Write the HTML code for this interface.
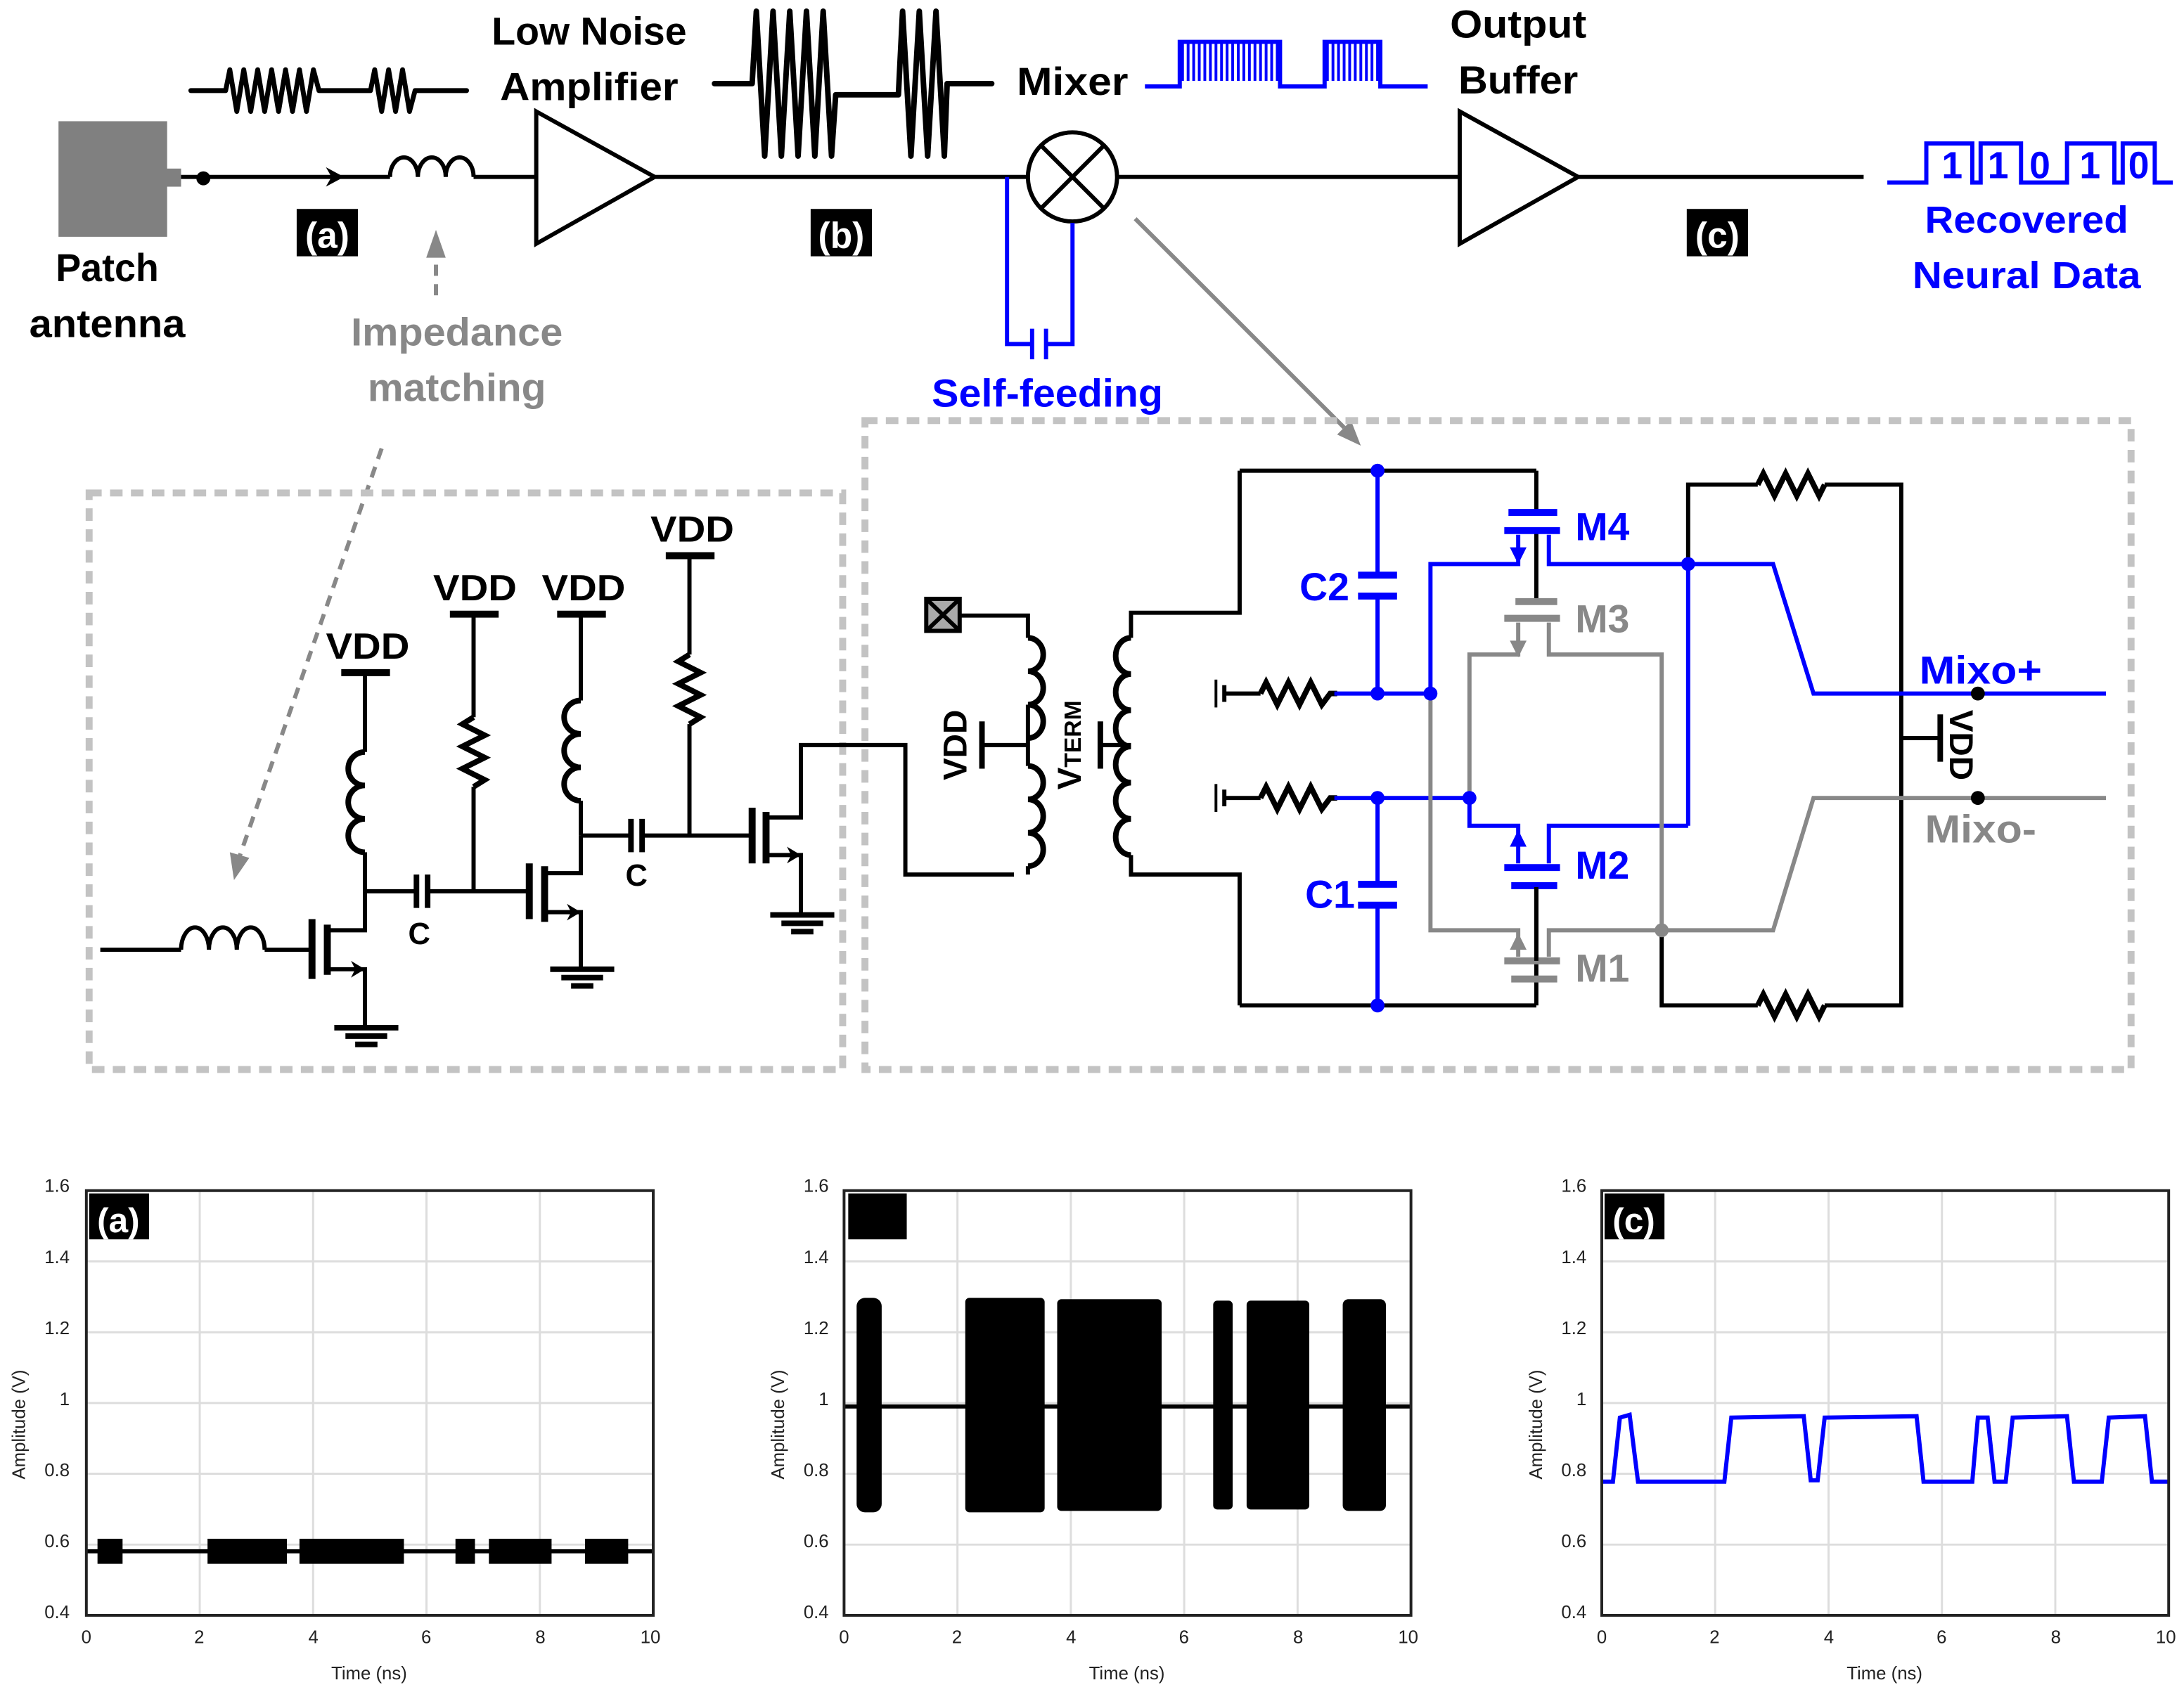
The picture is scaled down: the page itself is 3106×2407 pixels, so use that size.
<!DOCTYPE html>
<html><head><meta charset="utf-8"><style>
html,body{margin:0;padding:0;background:#fff}
svg{display:block}
text{font-family:"Liberation Sans",sans-serif}
.b{font-weight:bold}
</style></head><body>
<svg width="3106" height="2407" viewBox="0 0 1568 1215" xmlns="http://www.w3.org/2000/svg">
<defs>
<pattern id="pb" width="4" height="40" patternUnits="userSpaceOnUse"><rect x="0" y="0" width="2" height="40" fill="#00f"/></pattern>
</defs>
<rect width="1568" height="1215" fill="#fff"/>

<!-- ===== TOP BLOCK DIAGRAM ===== -->
<g stroke="#000" stroke-width="3" fill="none">
<rect x="42" y="87" width="78" height="83" fill="#808080" stroke="none"/>
<rect x="118" y="121" width="12" height="13" fill="#808080" stroke="none"/>
<line x1="130" y1="127" x2="280" y2="127"/>
<path d="M280 127 a10 14 0 1 1 20 0 a10 14 0 1 1 20 0 a10 14 0 1 1 20 0" />
<line x1="340" y1="127" x2="385" y2="127"/>
<polygon points="385,80 385,175 470,127" fill="#fff"/>
<line x1="470" y1="127" x2="738" y2="127"/>
<circle cx="770" cy="127" r="32" fill="#fff"/>
<line x1="747" y1="104" x2="793" y2="150"/><line x1="793" y1="104" x2="747" y2="150"/>
<line x1="802" y1="127" x2="1048" y2="127"/>
<polygon points="1048,80 1048,175 1133,127" fill="#fff"/>
<line x1="1133" y1="127" x2="1338" y2="127"/>
</g>
<circle cx="146" cy="128" r="5" fill="#000"/>
<polygon points="234,120 247,127 234,134 238,127" fill="#000"/>
<!-- self feeding -->
<g stroke="#00f" stroke-width="3" fill="none">
<polyline points="723,127 723,247 740,247"/>
<polyline points="770,160 770,247 752,247"/>
<line x1="741" y1="236" x2="741" y2="258"/><line x1="751" y1="236" x2="751" y2="258"/>
</g>
<text x="752" y="292" class="b" font-size="28" fill="#00f" text-anchor="middle" textLength="166" lengthAdjust="spacingAndGlyphs">Self-feeding</text>

<!-- top waveforms -->
<g stroke="#000" stroke-width="3.5" fill="none" stroke-linejoin="round" stroke-linecap="round">
<polyline points="137,65 162,65 165,50 170,80 175,50 180,80 185,50 190,80 195,50 200,80 205,50 210,80 215,50 220,80 225,50 229,65 266,65 269,50 274,80 279,50 284,80 289,50 294,80 298,65 335,65"/>
<polyline stroke-width="4" points="513,60 540,60 543,8 549,112 555,8 561,112 567,8 573,112 579,8 585,112 591,8 597,112 600,68 645,68 648,8 654,112 660,8 666,112 672,8 678,112 680,60 712,60"/>
</g>
<g stroke="#00f" stroke-width="3" fill="none">
<polyline points="822,62 847,62 847,30 919,30 919,62 951,62 951,30 991,30 991,62 1025,62"/>
</g>
<rect x="847" y="30" width="72" height="28" fill="url(#pb)"/>
<rect x="951" y="30" width="40" height="28" fill="url(#pb)"/>
<!-- recovered data -->
<polyline points="1355,131 1383,131 1383,103 1416,103 1416,131 1422,131 1422,103 1451,103 1451,131 1484,131 1484,103 1518,103 1518,131 1524,131 1524,103 1547,103 1547,131 1560,131" stroke="#00f" stroke-width="3" fill="none"/>
<g class="b" font-size="27" fill="#00f">
<text x="1394" y="128">1</text><text x="1427" y="128">1</text><text x="1457" y="128">0</text><text x="1493" y="128">1</text><text x="1528" y="128">0</text>
<text x="1455" y="167" text-anchor="middle" textLength="146" lengthAdjust="spacingAndGlyphs">Recovered</text>
<text x="1455" y="207" text-anchor="middle" textLength="164" lengthAdjust="spacingAndGlyphs">Neural Data</text>
</g>
<g class="b" font-size="28" fill="#000" text-anchor="middle">
<text x="77" y="202" textLength="74" lengthAdjust="spacingAndGlyphs">Patch</text>
<text x="77" y="242" textLength="112" lengthAdjust="spacingAndGlyphs">antenna</text>
<text x="423" y="32" textLength="140" lengthAdjust="spacingAndGlyphs">Low Noise</text>
<text x="423" y="72" textLength="128" lengthAdjust="spacingAndGlyphs">Amplifier</text>
<text x="770" y="68" textLength="80" lengthAdjust="spacingAndGlyphs">Mixer</text>
<text x="1090" y="27" textLength="98" lengthAdjust="spacingAndGlyphs">Output</text>
<text x="1090" y="67" textLength="86" lengthAdjust="spacingAndGlyphs">Buffer</text>
</g>
<g class="b" font-size="26">
<rect x="213" y="150" width="44" height="34" fill="#000"/><text x="235" y="178" fill="#fff" text-anchor="middle">(a)</text>
<rect x="582" y="150" width="44" height="34" fill="#000"/><text x="604" y="178" fill="#fff" text-anchor="middle">(b)</text>
<rect x="1211" y="150" width="44" height="34" fill="#000"/><text x="1233" y="178" fill="#fff" text-anchor="middle">(c)</text>
</g>
<g class="b" font-size="28" fill="#888" text-anchor="middle">
<text x="328" y="248" textLength="152" lengthAdjust="spacingAndGlyphs">Impedance</text>
<text x="328" y="288" textLength="128" lengthAdjust="spacingAndGlyphs">matching</text>
</g>
<line x1="313" y1="212" x2="313" y2="182" stroke="#888" stroke-width="3" stroke-dasharray="8,6"/>
<polygon points="306,185 313,165 320,185" fill="#888"/>
<line x1="274" y1="322" x2="172" y2="615" stroke="#888" stroke-width="3" stroke-dasharray="8,6"/>
<polygon points="165,612 168,632 179,616" fill="#888"/>
<line x1="815" y1="157" x2="965" y2="307" stroke="#888" stroke-width="3"/>
<polygon points="960,312 977,320 970,302" fill="#888"/>

<!-- dashed boxes -->
<rect x="64" y="354" width="541" height="414" fill="none" stroke="#c3c3c3" stroke-width="5" stroke-dasharray="9,6"/>
<rect x="621" y="302" width="909" height="466" fill="none" stroke="#c3c3c3" stroke-width="5" stroke-dasharray="9,6"/>

<!-- LNA schematic -->
<g stroke="#000" stroke-width="3" fill="none">
<line x1="72" y1="682" x2="130" y2="682"/>
<path d="M130 682 a10 16 0 1 1 20 0 a10 16 0 1 1 20 0 a10 16 0 1 1 20 0"/>
<line x1="190" y1="682" x2="224" y2="682"/>
<line x1="224" y1="660" x2="224" y2="703" stroke-width="5"/>
<line x1="235" y1="664" x2="235" y2="700" stroke-width="5"/>
<polyline points="235,668 262,668 262,640"/><polyline points="235,696 262,696 262,737"/>
<line x1="262" y1="640" x2="262" y2="612"/>
<path d="M262 612 a12 12 0 1 1 0 -24 a12 12 0 1 1 0 -24 a12 12 0 1 1 0 -24" stroke-width="4"/>
<line x1="262" y1="540" x2="262" y2="484"/>
<line x1="245" y1="483" x2="280" y2="483" stroke-width="5"/>
<line x1="240" y1="738" x2="286" y2="738" stroke-width="4"/><line x1="248" y1="744" x2="278" y2="744" stroke-width="4"/><line x1="255" y1="750" x2="271" y2="750" stroke-width="4"/>
<line x1="262" y1="640" x2="298" y2="640"/>
<line x1="299" y1="628" x2="299" y2="652" stroke-width="4"/><line x1="307" y1="628" x2="307" y2="652" stroke-width="4"/>
<line x1="307" y1="640" x2="380" y2="640"/>
<line x1="340" y1="640" x2="340" y2="565"/>
<polyline points="340,565 348,560 332,552 348,544 332,536 348,528 332,520 340,515" stroke-width="4"/>
<line x1="340" y1="515" x2="340" y2="442"/>
<line x1="323" y1="441" x2="358" y2="441" stroke-width="5"/>
<line x1="380" y1="620" x2="380" y2="660" stroke-width="5"/>
<line x1="391" y1="622" x2="391" y2="662" stroke-width="5"/>
<polyline points="391,627 417,627 417,600"/><polyline points="391,655 417,655 417,695"/>
<line x1="417" y1="600" x2="417" y2="575"/>
<path d="M417 575 a12 12 0 1 1 0 -24 a12 12 0 1 1 0 -24 a12 12 0 1 1 0 -24" stroke-width="4"/>
<line x1="417" y1="503" x2="417" y2="442"/>
<line x1="400" y1="441" x2="435" y2="441" stroke-width="5"/>
<line x1="395" y1="696" x2="441" y2="696" stroke-width="4"/><line x1="403" y1="702" x2="433" y2="702" stroke-width="4"/><line x1="410" y1="708" x2="426" y2="708" stroke-width="4"/>
<line x1="417" y1="600" x2="452" y2="600"/>
<line x1="453" y1="588" x2="453" y2="612" stroke-width="4"/><line x1="461" y1="588" x2="461" y2="612" stroke-width="4"/>
<line x1="461" y1="600" x2="540" y2="600"/>
<line x1="495" y1="600" x2="495" y2="520"/>
<polyline points="495,520 503,515 487,507 503,499 487,491 503,483 487,475 495,470" stroke-width="4"/>
<line x1="495" y1="470" x2="495" y2="400"/>
<line x1="478" y1="399" x2="513" y2="399" stroke-width="5"/>
<line x1="540" y1="580" x2="540" y2="620" stroke-width="5"/>
<line x1="550" y1="583" x2="550" y2="620" stroke-width="5"/>
<polyline points="550,587 575,587 575,535 650,535 650,628 728,628"/>
<polyline points="550,614 575,614 575,657"/>
<line x1="553" y1="657" x2="599" y2="657" stroke-width="4"/><line x1="561" y1="663" x2="591" y2="663" stroke-width="4"/><line x1="568" y1="669" x2="584" y2="669" stroke-width="4"/>
</g>
<g fill="#000">
<polygon points="252,690 262,696 252,702 255,696"/>
<polygon points="407,649 417,655 407,661 410,655"/>
<polygon points="565,608 575,614 565,620 568,614"/>
</g>
<g class="b" font-size="26" fill="#000" text-anchor="middle">
<text x="264" y="473" textLength="60" lengthAdjust="spacingAndGlyphs">VDD</text>
<text x="341" y="431" textLength="60" lengthAdjust="spacingAndGlyphs">VDD</text>
<text x="419" y="431" textLength="60" lengthAdjust="spacingAndGlyphs">VDD</text>
<text x="497" y="389" textLength="60" lengthAdjust="spacingAndGlyphs">VDD</text>
<text x="301" y="678" font-size="22">C</text>
<text x="457" y="636" font-size="22">C</text>
</g>

<!-- Mixer schematic -->
<g stroke="#000" stroke-width="3" fill="none">
<rect x="665" y="430" width="24" height="23" fill="#aaa"/>
<line x1="665" y1="430" x2="689" y2="453"/><line x1="689" y1="430" x2="665" y2="453"/>
<polyline points="689,442 738,442 738,458"/>
<path d="M738 458 a11 12 0 1 1 0 24 a11 12 0 1 1 0 24 a11 12 0 1 1 0 24" stroke-width="4"/>
<line x1="738" y1="506" x2="738" y2="550"/>
<path d="M738 550 a11 12 0 1 1 0 24 a11 12 0 1 1 0 24 a11 12 0 1 1 0 24" stroke-width="4"/>
<polyline points="738,622 738,628"/>
<line x1="705" y1="535" x2="738" y2="535"/>
<line x1="705" y1="518" x2="705" y2="552" stroke-width="4"/>
<polyline points="890,338 890,440 812,440 812,458"/>
<path d="M812 458 a11 13 0 1 0 0 26 a11 13 0 1 0 0 26 a11 13 0 1 0 0 26 a11 13 0 1 0 0 26 a11 13 0 1 0 0 26 a11 13 0 1 0 0 26" stroke-width="4"/>
<polyline points="812,614 812,628 890,628 890,722"/>
<line x1="790" y1="535" x2="812" y2="535"/>
<line x1="790" y1="518" x2="790" y2="552" stroke-width="4"/>
<line x1="890" y1="338" x2="1103" y2="338"/>
<line x1="890" y1="722" x2="1103" y2="722"/>
<line x1="1103" y1="338" x2="1103" y2="366"/>
<line x1="1103" y1="380" x2="1103" y2="432"/>
<line x1="1103" y1="637" x2="1103" y2="722"/>
<line x1="873" y1="488" x2="873" y2="508" stroke-width="2"/><line x1="879" y1="492" x2="879" y2="504"/>
<line x1="879" y1="498" x2="905" y2="498"/>
<polyline points="905,498 909,490 917,506 925,490 933,506 941,490 949,506 955,498 960,498" stroke-width="4"/>
<line x1="873" y1="563" x2="873" y2="583" stroke-width="2"/><line x1="879" y1="567" x2="879" y2="579"/>
<line x1="879" y1="573" x2="905" y2="573"/>
<polyline points="905,573 909,565 917,581 925,565 933,581 941,565 949,581 955,573 960,573" stroke-width="4"/>
<polyline points="1212,405 1212,348 1262,348"/>
<polyline points="1262,348 1266,340 1274,356 1282,340 1290,356 1298,340 1306,356 1310,348" stroke-width="4"/>
<polyline points="1310,348 1365,348 1365,722 1310,722"/>
<polyline points="1262,722 1266,714 1274,730 1282,714 1290,730 1298,714 1306,730 1310,722" stroke-width="4"/>
<polyline points="1262,722 1193,722 1193,668"/>
<line x1="1365" y1="530" x2="1393" y2="530"/>
<line x1="1393" y1="513" x2="1393" y2="547" stroke-width="4"/>
</g>
<g stroke="#00f" stroke-width="3" fill="none">
<polyline points="989,338 989,414"/><polyline points="989,428 989,498"/>
<line x1="975" y1="413" x2="1003" y2="413" stroke-width="5"/><line x1="975" y1="428" x2="1003" y2="428" stroke-width="5"/>
<polyline points="989,573 989,635"/><polyline points="989,650 989,722"/>
<line x1="975" y1="635" x2="1003" y2="635" stroke-width="5"/><line x1="975" y1="650" x2="1003" y2="650" stroke-width="5"/>
<line x1="958" y1="498" x2="1027" y2="498"/>
<line x1="958" y1="573" x2="1055" y2="573"/>
<polyline points="1027,498 1027,405 1090,405 1090,384"/>
<line x1="1083" y1="368" x2="1118" y2="368" stroke-width="5"/>
<line x1="1080" y1="381" x2="1120" y2="381" stroke-width="5"/>
<polyline points="1112,384 1112,405 1273,405 1302,498 1512,498"/>
<line x1="1212" y1="405" x2="1212" y2="593"/>
<polyline points="1055,573 1055,593 1090,593 1090,620"/>
<line x1="1080" y1="623" x2="1120" y2="623" stroke-width="5"/>
<line x1="1085" y1="636" x2="1118" y2="636" stroke-width="5"/>
<polyline points="1112,620 1112,593 1212,593"/>
</g>
<polygon points="1084,393 1090,405 1096,393" fill="#00f"/>
<polygon points="1084,608 1090,596 1096,608" fill="#00f"/>
<g stroke="#888" stroke-width="3" fill="none">
<line x1="1088" y1="432" x2="1118" y2="432" stroke-width="5"/>
<line x1="1080" y1="444" x2="1120" y2="444" stroke-width="5"/>
<polyline points="1090,447 1090,470 1055,470 1055,573"/>
<polyline points="1112,447 1112,470 1193,470 1193,668"/>
<polyline points="1027,498 1027,668 1090,668 1090,687"/>
<line x1="1080" y1="690" x2="1120" y2="690" stroke-width="5"/>
<line x1="1085" y1="703" x2="1118" y2="703" stroke-width="5"/>
<polyline points="1112,687 1112,668 1273,668 1302,573 1512,573"/>
</g>
<line x1="1103" y1="637" x2="1103" y2="690" stroke="#000" stroke-width="3"/>
<polygon points="1084,460 1090,472 1096,460" fill="#888"/>
<polygon points="1084,682 1090,670 1096,682" fill="#888"/>
<g fill="#00f">
<circle cx="989" cy="338" r="5"/><circle cx="989" cy="498" r="5"/><circle cx="989" cy="573" r="5"/><circle cx="989" cy="722" r="5"/>
<circle cx="1027" cy="498" r="5"/><circle cx="1055" cy="573" r="5"/><circle cx="1212" cy="405" r="5"/>
</g>
<circle cx="1193" cy="668" r="5" fill="#888"/>
<circle cx="1420" cy="498" r="5" fill="#000"/><circle cx="1420" cy="573" r="5" fill="#000"/>
<g class="b" font-size="28">
<text x="1131" y="388" fill="#00f">M4</text>
<text x="1131" y="454" fill="#888">M3</text>
<text x="1131" y="631" fill="#00f">M2</text>
<text x="1131" y="705" fill="#888">M1</text>
<text x="933" y="431" fill="#00f">C2</text>
<text x="937" y="652" fill="#00f">C1</text>
<text x="1378" y="491" fill="#00f" textLength="88" lengthAdjust="spacingAndGlyphs">Mixo+</text>
<text x="1382" y="605" fill="#888" textLength="80" lengthAdjust="spacingAndGlyphs">Mixo-</text>
</g>
<text transform="translate(694,535) rotate(-90)" class="b" font-size="24" text-anchor="middle">VDD</text>
<text transform="translate(776,535) rotate(-90)" class="b" font-size="24" text-anchor="middle">V<tspan font-size="17">TERM</tspan></text>
<text transform="translate(1400,535) rotate(90)" class="b" font-size="24" text-anchor="middle">VDD</text>

<!-- ===== PLOTS ===== -->
<g font-size="13" fill="#222">
<g>
<g stroke="#ddd" stroke-width="1.5">
<line x1="62" y1="905.8" x2="469" y2="905.8"/><line x1="62" y1="956.7" x2="469" y2="956.7"/><line x1="62" y1="1007.5" x2="469" y2="1007.5"/><line x1="62" y1="1058.3" x2="469" y2="1058.3"/><line x1="62" y1="1109.2" x2="469" y2="1109.2"/>
<line x1="143.4" y1="855" x2="143.4" y2="1160"/><line x1="224.8" y1="855" x2="224.8" y2="1160"/><line x1="306.2" y1="855" x2="306.2" y2="1160"/><line x1="387.6" y1="855" x2="387.6" y2="1160"/>
</g>
<line x1="62" y1="1114" x2="469" y2="1114" stroke="#000" stroke-width="3"/>
<g fill="#000"><rect x="70" y="1105" width="18" height="18"/><rect x="149" y="1105" width="57" height="18"/><rect x="215" y="1105" width="75" height="18"/><rect x="327" y="1105" width="14" height="18"/><rect x="351" y="1105" width="45" height="18"/><rect x="420" y="1105" width="31" height="18"/></g>
<rect x="62" y="855" width="407" height="305" fill="none" stroke="#222" stroke-width="2"/>
<rect x="64" y="857" width="43" height="33" fill="#000"/><text x="85" y="885" fill="#fff" class="b" font-size="25" text-anchor="middle">(a)</text>
</g>
<g>
<g stroke="#ddd" stroke-width="1.5">
<line x1="606" y1="905.8" x2="1013" y2="905.8"/><line x1="606" y1="956.7" x2="1013" y2="956.7"/><line x1="606" y1="1007.5" x2="1013" y2="1007.5"/><line x1="606" y1="1058.3" x2="1013" y2="1058.3"/><line x1="606" y1="1109.2" x2="1013" y2="1109.2"/>
<line x1="687.4" y1="855" x2="687.4" y2="1160"/><line x1="768.8" y1="855" x2="768.8" y2="1160"/><line x1="850.2" y1="855" x2="850.2" y2="1160"/><line x1="931.6" y1="855" x2="931.6" y2="1160"/>
</g>
<line x1="606" y1="1010" x2="1013" y2="1010" stroke="#000" stroke-width="3"/>
<g fill="#000"><rect x="615" y="932" width="18" height="154" rx="6"/><rect x="693" y="932" width="57" height="154" rx="3"/><rect x="759" y="933" width="75" height="152" rx="3"/><rect x="871" y="934" width="14" height="150" rx="3"/><rect x="895" y="934" width="45" height="150" rx="3"/><rect x="964" y="933" width="31" height="152" rx="4"/></g>
<rect x="606" y="855" width="407" height="305" fill="none" stroke="#222" stroke-width="2"/>
<rect x="609" y="857" width="42" height="33" fill="#000"/>
</g>
<g>
<g stroke="#ddd" stroke-width="1.5">
<line x1="1150" y1="905.8" x2="1557" y2="905.8"/><line x1="1150" y1="956.7" x2="1557" y2="956.7"/><line x1="1150" y1="1007.5" x2="1557" y2="1007.5"/><line x1="1150" y1="1058.3" x2="1557" y2="1058.3"/><line x1="1150" y1="1109.2" x2="1557" y2="1109.2"/>
<line x1="1231.4" y1="855" x2="1231.4" y2="1160"/><line x1="1312.8" y1="855" x2="1312.8" y2="1160"/><line x1="1394.2" y1="855" x2="1394.2" y2="1160"/><line x1="1475.6" y1="855" x2="1475.6" y2="1160"/>
</g>
<polyline fill="none" stroke="#00f" stroke-width="3" points="1150,1064 1158,1064 1163,1018 1170,1016 1176,1064 1238,1064 1243,1018 1295,1017 1300,1063 1305,1063 1310,1018 1376,1017 1381,1064 1416,1064 1420,1018 1427,1018 1432,1064 1440,1064 1445,1018 1484,1017 1489,1064 1509,1064 1514,1018 1540,1017 1545,1064 1557,1064"/>
<rect x="1150" y="855" width="407" height="305" fill="none" stroke="#222" stroke-width="2"/>
<rect x="1152" y="857" width="43" height="33" fill="#000"/><text x="1173" y="885" fill="#fff" class="b" font-size="25" text-anchor="middle">(c)</text>
</g>
<g text-anchor="end">
<text x="50" y="856">1.6</text><text x="50" y="907">1.4</text><text x="50" y="958">1.2</text><text x="50" y="1009">1</text><text x="50" y="1060">0.8</text><text x="50" y="1111">0.6</text><text x="50" y="1162">0.4</text>
<text x="595" y="856">1.6</text><text x="595" y="907">1.4</text><text x="595" y="958">1.2</text><text x="595" y="1009">1</text><text x="595" y="1060">0.8</text><text x="595" y="1111">0.6</text><text x="595" y="1162">0.4</text>
<text x="1139" y="856">1.6</text><text x="1139" y="907">1.4</text><text x="1139" y="958">1.2</text><text x="1139" y="1009">1</text><text x="1139" y="1060">0.8</text><text x="1139" y="1111">0.6</text><text x="1139" y="1162">0.4</text>
</g>
<g text-anchor="middle">
<text x="62" y="1180">0</text><text x="143" y="1180">2</text><text x="225" y="1180">4</text><text x="306" y="1180">6</text><text x="388" y="1180">8</text><text x="467" y="1180">10</text>
<text x="606" y="1180">0</text><text x="687" y="1180">2</text><text x="769" y="1180">4</text><text x="850" y="1180">6</text><text x="932" y="1180">8</text><text x="1011" y="1180">10</text>
<text x="1150" y="1180">0</text><text x="1231" y="1180">2</text><text x="1313" y="1180">4</text><text x="1394" y="1180">6</text><text x="1476" y="1180">8</text><text x="1555" y="1180">10</text>
<text x="265" y="1206">Time (ns)</text><text x="809" y="1206">Time (ns)</text><text x="1353" y="1206">Time (ns)</text>
<text transform="translate(18,1023) rotate(-90)">Amplitude (V)</text>
<text transform="translate(563,1023) rotate(-90)">Amplitude (V)</text>
<text transform="translate(1107,1023) rotate(-90)">Amplitude (V)</text>
</g>
</g>
</svg>
</body></html>
